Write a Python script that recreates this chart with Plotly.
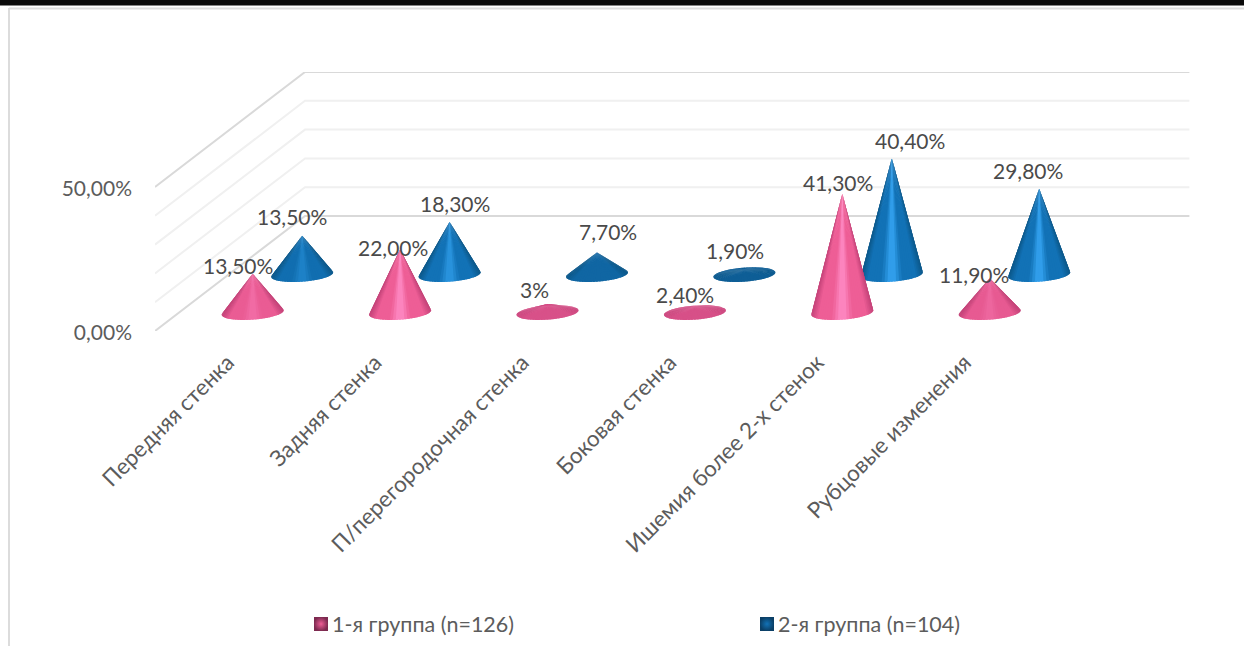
import math
import plotly.graph_objects as go

# ---------- data ----------
categories = ["Передняя стенка", "Задняя стенка", "П/перегородочная стенка",
              "Боковая стенка", "Ишемия более 2-х стенок", "Рубцовые изменения"]
group1_name = "1-я группа (n=126)"
group2_name = "2-я группа (n=104)"
group1_values = [13.5, 22.0, 3.0, 2.4, 41.3, 11.9]
group2_values = [13.5, 18.3, 7.7, 1.9, 40.4, 29.8]
group1_labels = ["13,50%", "22,00%", "3%", "2,40%", "41,30%", "11,90%"]
group2_labels = ["13,50%", "18,30%", "7,70%", "1,90%", "40,40%", "29,80%"]
axis_tick_values = [0, 50]
axis_tick_labels = ["0,00%", "50,00%"]
wall_grid_values = [0, 10, 20, 30, 40, 50]

# ---------- layout constants ----------
W, H = 1244, 646
PL, PR, PT, PB = 155, 1190, 72, 331          # plot rectangle in page pixels
PX_PER_CAT = 147.4
PX_PER_PCT = 2.88
X_MAX = (PR - PL) / PX_PER_CAT
Y_MAX = (PB - PT) / PX_PER_PCT
DEPTH_X = 150 / PX_PER_CAT                   # oblique projection of the floor depth
DEPTH_Y = 115 / PX_PER_PCT
DEPTH1, DEPTH2 = 0.16, 0.49                  # depth of each series row
CONE_A = 31 / PX_PER_CAT
CONE_B = 7 / PX_PER_PCT
CONE_TILT = 2.2 / PX_PER_PCT
FACETS = 64

TEXT = "#4a4a4a"
AXIS_TEXT = "#5c5c5c"
FONT = "Lato"
LABEL_SIZE = 21
AXIS_SIZE = 21
CAT_SIZE = 22.4
LEGEND_SIZE = 22

PINK = dict(edge=(196, 66, 120), base=(238, 94, 150), hi=(255, 140, 198), flat=(214, 80, 136))
BLUE = dict(edge=(12, 88, 138), base=(18, 114, 182), hi=(54, 166, 244), flat=(14, 94, 150))

# hand-placed data-label offsets (pixels from the apex)
group1_shift = [(-15, -7), (-7, -1), (-13, -13), (-10, -10), (-4, -10), (-16, -3)]
group2_shift = [(-10, -18), (5, -17), (11, -20), (-9, -18), (18, -17), (-11, -17)]


def project(cat, value, depth):
    return cat + depth * DEPTH_X, value + depth * DEPTH_Y


def mix(c1, c2, f):
    f = max(0.0, min(1.0, f))
    return tuple(c1[i] + (c2[i] - c1[i]) * f for i in range(3))


def facet_color(pal, u, front, value):
    tall = min(1.0, max(0.0, (value - 2) / 14))
    base = mix(pal["flat"], pal["base"], tall if front else tall * 0.4)
    hi = mix(base, pal["hi"], min(1.0, max(0.0, (value - 8) / 14)))
    edge = mix(pal["edge"], base, 0.0 if value > 6 else 0.5)
    au = abs(u)
    if au < 0.3:
        c = mix(hi, base, au / 0.3)
    elif au < 0.75:
        c = base
    else:
        c = mix(base, edge, (au - 0.75) / 0.25)
    return "rgb(%d,%d,%d)" % tuple(round(v) for v in c)


def cone_traces(values, depth, pal):
    out = []
    steps = list(range(FACETS))
    steps.sort(key=lambda k: -math.sin(2 * math.pi * (k + 0.5) / FACETS))  # back to front
    step = 2 * math.pi / FACETS
    for i, v in enumerate(values):
        cx, cy = project(i + 0.5, 0, depth)
        for k in steps:
            tm = (k + 0.5) * step
            if v > 6 and math.sin(tm) > 0.5:
                continue                             # hidden behind the front of a tall cone
            # each facet overlaps its neighbours; later ones paint over the seam
            t0, t1 = tm - step * 0.9, tm + step * 0.9
            xs = [cx + CONE_A * math.cos(t0), cx + CONE_A * math.cos(tm), cx + CONE_A * math.cos(t1), cx]
            ys = [cy + CONE_B * math.sin(t0) + CONE_TILT * math.cos(t0),
                  cy + CONE_B * math.sin(tm) + CONE_TILT * math.cos(tm),
                  cy + CONE_B * math.sin(t1) + CONE_TILT * math.cos(t1),
                  cy + v]
            col = facet_color(pal, math.cos(tm), math.sin(tm) < 0, v)
            out.append(go.Scatter(x=xs + xs[:1], y=ys + ys[:1], mode="lines", fill="toself",
                                  fillcolor=col, line=dict(color=col, width=0),
                                  hoverinfo="skip", showlegend=False, cliponaxis=False))
    return out


fig = go.Figure()

# walls: left wall diagonals + back wall horizontals
for v in wall_grid_values:
    x0, y0 = project(0, v, 0)
    x1, y1 = project(0, v, 1)
    x2, y2 = project(6, v, 1)
    dark = v in (0, 50)
    fig.add_trace(go.Scatter(x=[x0, x1, x2], y=[y0, y1, y2], mode="lines",
                             line=dict(color="#d9d9d9" if dark else "#f0f0f0", width=2),
                             hoverinfo="skip", showlegend=False, cliponaxis=False))

# cones (back row first)
for tr in cone_traces(group2_values, DEPTH2, BLUE):
    fig.add_trace(tr)
for tr in cone_traces(group1_values, DEPTH1, PINK):
    fig.add_trace(tr)

# legend entries
fig.add_trace(go.Scatter(x=[None], y=[None], mode="markers", name=group1_name,
                         marker=dict(symbol="square", size=14, color="#7d2a50",
                                     gradient=dict(type="radial", color="#ee5e96"))))
fig.add_trace(go.Scatter(x=[None], y=[None], mode="markers", name=group2_name,
                         marker=dict(symbol="square", size=14, color="#0b3f66",
                                     gradient=dict(type="radial", color="#1272b6"))))

# data labels
annotations = []
for vals, labs, depth, shifts in ((group1_values, group1_labels, DEPTH1, group1_shift),
                                  (group2_values, group2_labels, DEPTH2, group2_shift)):
    for i, (v, lab, sh) in enumerate(zip(vals, labs, shifts)):
        ax, ay = project(i + 0.5, v, depth)
        annotations.append(dict(x=ax, y=ay, text=lab, showarrow=False, xshift=sh[0], yshift=-sh[1] + 1,
                                font=dict(family=FONT, size=LABEL_SIZE, color=TEXT)))

# page furniture, in page pixels converted to paper coordinates
def px(x):
    return (x - PL) / (PR - PL)


def py(y):
    return (PB - y) / (PB - PT)


shapes = [
    dict(type="rect", xref="paper", yref="paper", x0=px(0), x1=px(W), y0=py(0), y1=py(5.5),
         fillcolor="#0a0a0a", line=dict(width=0), layer="above"),
    dict(type="line", xref="paper", yref="paper", x0=px(9), x1=px(W), y0=py(8.5), y1=py(8.5),
         line=dict(color="#dcdcdc", width=2)),
    dict(type="line", xref="paper", yref="paper", x0=px(9), x1=px(9), y0=py(8), y1=py(H),
         line=dict(color="#dcdcdc", width=2)),
]

fig.update_layout(
    width=W, height=H,
    margin=dict(l=PL, r=W - PR, t=PT, b=H - PB, autoexpand=False),
    plot_bgcolor="white", paper_bgcolor="white",
    font=dict(family=FONT, size=LABEL_SIZE, color=TEXT),
    hovermode=False,
    xaxis=dict(range=[0, X_MAX], tickmode="array", tickvals=[i + 0.5 for i in range(len(categories))],
               ticktext=categories, tickangle=-45, showgrid=False, zeroline=False, showline=False,
               ticks="", ticklabelstandoff=13, ticklabelshift=-1,
               tickfont=dict(family=FONT, size=CAT_SIZE, color=AXIS_TEXT), automargin=False),
    yaxis=dict(range=[0, Y_MAX], tickmode="array", tickvals=axis_tick_values, ticktext=axis_tick_labels,
               showgrid=False, zeroline=False, showline=False, ticks="", ticklabelstandoff=22,
               ticklabelshift=2, tickfont=dict(family=FONT, size=AXIS_SIZE, color=AXIS_TEXT),
               automargin=False),
    legend=dict(orientation="h", x=px(292), xanchor="left", y=py(624), yanchor="middle",
                entrywidth=401, entrywidthmode="pixels", bgcolor="rgba(0,0,0,0)",
                font=dict(family=FONT, size=LEGEND_SIZE - 0.5, color=AXIS_TEXT)),
    annotations=annotations, shapes=shapes,
)

# plotly's legend keeps a wide fixed gap between symbol and text; the reference's is narrower
fig.write_html("out.html", config=dict(displayModeBar=False),
               post_script="document.body.style.margin='0';document.body.style.overflow='hidden';"
                           "document.querySelectorAll('.legend .legendsymbols').forEach("
                           "function(g){g.setAttribute('transform','translate(9,0)');});")
